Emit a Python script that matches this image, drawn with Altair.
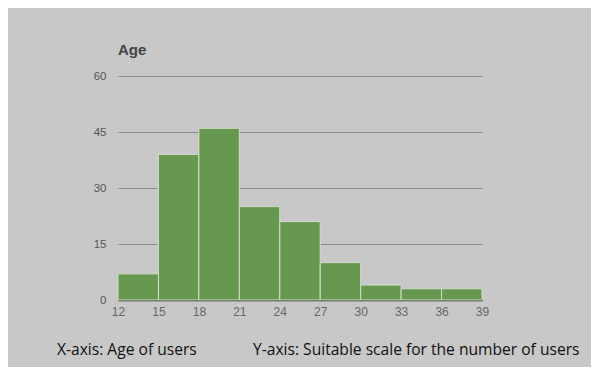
import altair as alt
import pandas as pd

bin_start = [12, 15, 18, 21, 24, 27, 30, 33, 36]
bin_end = [15, 18, 21, 24, 27, 30, 33, 36, 39]
counts = [7, 39, 46, 25, 21, 10, 4, 3, 3]
x_ticks = [12, 15, 18, 21, 24, 27, 30, 33, 36, 39]
y_ticks = [0, 15, 30, 45, 60]
captions = ["X-axis: Age of users", "Y-axis: Suitable scale for the number of users"]

df = pd.DataFrame({"start": bin_start, "end": bin_end, "count": counts})

FONT = "Liberation Sans"

bars = alt.Chart(df).mark_rect(
    color="#67984f", stroke="#d4dccb", strokeWidth=1
).encode(
    x=alt.X("start:Q", scale=alt.Scale(domain=[12, 39], nice=False, zero=False),
            axis=alt.Axis(values=x_ticks, title=None, grid=False, ticks=False,
                          domainColor="#222222", domainWidth=1.5,
                          labelColor="#666666", labelFont=FONT, labelFontSize=12,
                          labelPadding=6, labelFlush=False)),
    x2="end:Q",
    y=alt.Y("count:Q", scale=alt.Scale(domain=[0, 60], nice=False),
            axis=alt.Axis(values=y_ticks, title=None, ticks=False, domain=False,
                          grid=True, gridColor="#8a8a8a", gridWidth=1,
                          labelColor="#555555", labelFont=FONT, labelFontSize=11.5,
                          labelPadding=12)),
)

cap_df = pd.DataFrame({"text": captions, "px": [-61, 135]})
caps = alt.Chart(cap_df).mark_text(
    align="left", baseline="middle", font="Open Sans", fontSize=15.6, color="#111111"
).encode(
    x=alt.X("px:Q", scale=None),
    y=alt.value(50 + 224),
    text="text:N",
)

chart = alt.layer(bars, caps).properties(
    width=364,
    height=224,
    background="#c8c8c8",
    padding={"left": 110, "top": 68, "right": 109, "bottom": 67},
    autosize=alt.AutoSizeParams(type="none"),
    title=alt.Title("Age", anchor="start", frame="group", font=FONT, fontSize=15,
                    fontWeight="bold", color="#444444", offset=12),
).configure_view(stroke=None)

chart.save("out.html", embed_options={"renderer": "svg", "actions": False})
